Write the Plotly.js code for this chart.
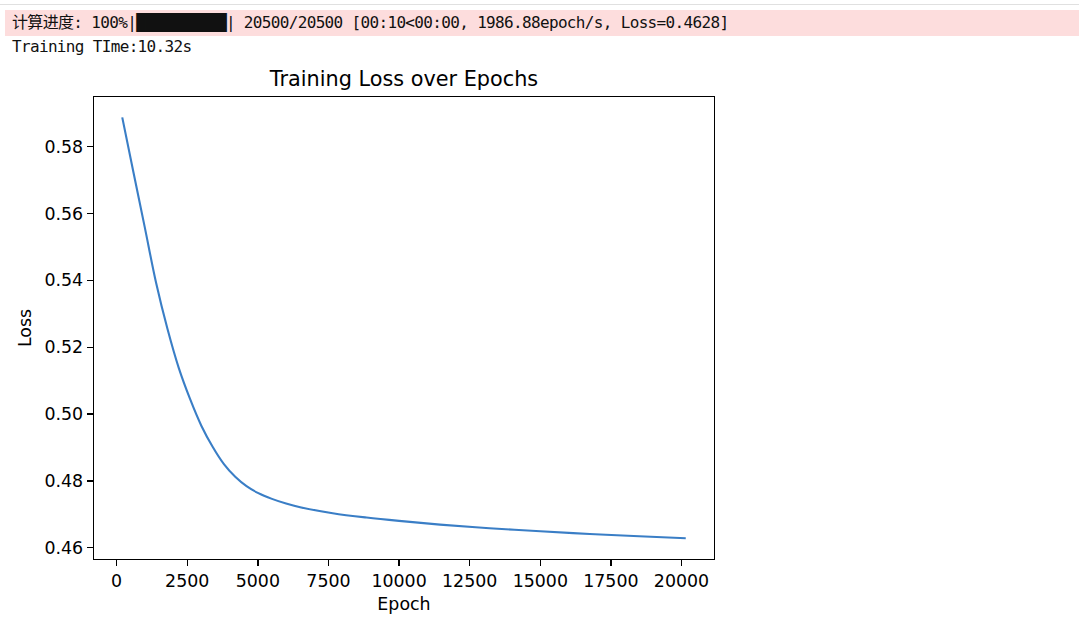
<!DOCTYPE html>
<html>
<head>
<meta charset="utf-8">
<script src="https://cdn.plot.ly/plotly-3.0.1.min.js"></script>
<style>
  html, body { margin: 0; padding: 0; background: #ffffff; width: 1079px; height: 617px; overflow: hidden; }
  #topline { position: absolute; left: 0; top: 4px; width: 1079px; height: 1px; background: #e0e0e0; }
  #stderr { position: absolute; left: 5px; top: 10px; width: 1074px; height: 26px; background: #fddddd; }
  .mono { position: absolute; font-family: "DejaVu Sans Mono", "Noto Sans CJK SC", monospace; font-size: 16px; letter-spacing: -0.66px; color: #111; white-space: pre; line-height: 20px; }
  #line1 { left: 12px; top: 13px; }
  #line2 { left: 12px; top: 37px; }
  #chart { position: absolute; left: 0; top: 0; width: 1079px; height: 617px; }
</style>
</head>
<body>
<div id="topline"></div>
<div id="stderr"></div>
<div id="chart"></div>
<div class="mono" id="line1"></div>
<div class="mono" id="line2"></div>
<script>
// ---- text lines ----
const progressText = "计算进度: 100%|██████████| 20500/20500 [00:10<00:00, 1986.88epoch/s, Loss=0.4628]";
const timeText = "Training TIme:10.32s";
document.getElementById('line1').textContent = progressText;
document.getElementById('line2').textContent = timeText;

// ---- chart data ----
const epochs = [200, 600, 1000, 1400, 1800, 2200, 2600, 3000, 3400, 3800, 4200, 4600, 5000, 5500, 6000, 6500, 7650, 8850, 10000, 11450, 13200, 15000, 16750, 18500, 20150];
const losses = [0.5888, 0.5722, 0.5558, 0.5392, 0.5255, 0.5138, 0.5045, 0.4965, 0.4902, 0.4850, 0.4812, 0.4784, 0.4764, 0.4746, 0.4732, 0.4721, 0.4703, 0.4690, 0.4680, 0.4669, 0.4658, 0.4649, 0.4641, 0.4634, 0.4628];
const xTicks = [0, 2500, 5000, 7500, 10000, 12500, 15000, 17500, 20000];
const yTicks = [0.46, 0.48, 0.50, 0.52, 0.54, 0.56, 0.58];

const trace = {
  x: epochs, y: losses, type: 'scatter', mode: 'lines',
  line: { color: '#3a7ec6', width: 2.1, shape: 'spline', smoothing: 1 },
  hoverinfo: 'skip'
};

const font = "DejaVu Sans, sans-serif";
const layout = {
  width: 1079, height: 617,
  margin: { l: 94, r: 365, t: 97, b: 58 },
  paper_bgcolor: 'rgba(0,0,0,0)',
  plot_bgcolor: '#ffffff',
  showlegend: false,
  title: {
    text: 'Training Loss over Epochs',
    font: { family: font, size: 20.8, color: '#000' },
    x: 404 / 1079, xref: 'container', xanchor: 'center',
    y: 1 - 79 / 617, yref: 'container', yanchor: 'middle'
  },
  xaxis: {
    range: [-800, 21150],
    tickvals: xTicks, ticktext: xTicks.map(String),
    ticks: 'outside', ticklen: 6, tickwidth: 1.4, tickcolor: '#000',
    showline: true, mirror: true, linecolor: '#000', linewidth: 1.4,
    showgrid: false, zeroline: false,
    tickfont: { family: font, size: 17.4, color: '#000' },
    title: { text: 'Epoch', font: { family: font, size: 17.4, color: '#000' }, standoff: 7 }
  },
  yaxis: {
    range: [0.4566, 0.5949],
    tickvals: yTicks, ticktext: yTicks.map(v => v.toFixed(2)),
    ticks: 'outside', ticklen: 6, tickwidth: 1.4, tickcolor: '#000',
    showline: true, mirror: true, linecolor: '#000', linewidth: 1.4,
    showgrid: false, zeroline: false,
    tickfont: { family: font, size: 17.4, color: '#000' },
    title: { text: 'Loss', font: { family: font, size: 17.4, color: '#000' }, standoff: 8 }
  }
};

Plotly.newPlot('chart', [trace], layout, { displayModeBar: false, staticPlot: true });
</script>
</body>
</html>
